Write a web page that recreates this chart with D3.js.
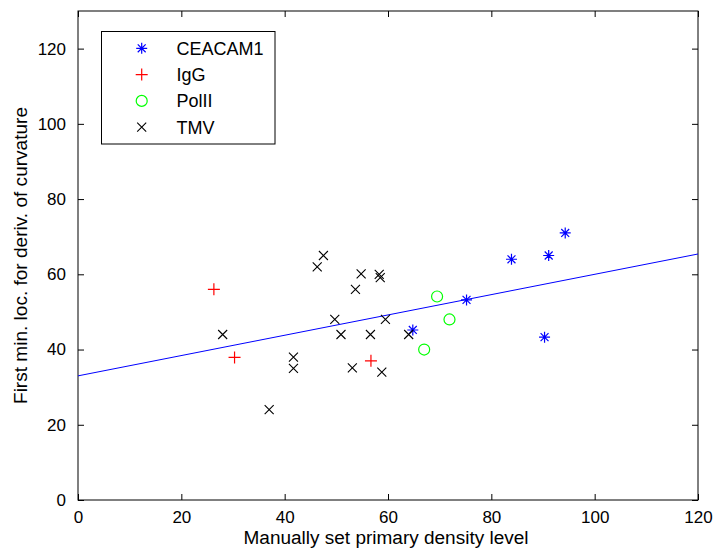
<!DOCTYPE html>
<html>
<head>
<meta charset="utf-8">
<script src="https://cdn.jsdelivr.net/npm/d3@7/dist/d3.min.js"></script>
<style>
  html, body { margin: 0; padding: 0; background: #fff; }
  svg { display: block; font-family: "Liberation Sans", Arial, Helvetica, sans-serif; }
</style>
</head>
<body>
<svg id="chart" width="717" height="554"></svg>
<script>
// ---- data ----
const ceacamX = [94.3, 91.1, 83.9, 75.2, 64.8, 90.3];
const ceacamY = [71.0, 65.0, 64.0, 53.2, 45.2, 43.3];
const iggX = [26.3, 30.3, 56.7];
const iggY = [56.0, 37.9, 37.0];
const polX = [69.5, 71.9, 67.0];
const polY = [54.1, 48.0, 40.0];
const tmvX = [28.0, 47.5, 46.3, 54.8, 58.3, 58.5, 53.7, 49.7, 59.5, 50.9, 56.6, 64.0, 41.7, 41.7, 53.1, 58.8, 37.0];
const tmvY = [44.0, 65.0, 62.0, 60.1, 60.0, 59.1, 56.0, 48.0, 48.0, 44.0, 44.0, 44.0, 38.0, 35.0, 35.1, 34.0, 24.0];
const fitX = [0, 120];
const fitY = [33.0, 65.4];
const xTicks = [0, 20, 40, 60, 80, 100, 120];
const yTicks = [0, 20, 40, 60, 80, 100, 120];
const seriesNames = ["CEACAM1", "IgG", "PolII", "TMV"];
const xDomain = [0, 120];
const yDomain = [0, 130];
const xLabel = "Manually set primary density level";
const yLabel = "First min. loc. for deriv. of curvature";

// ---- layout ----
const L = 78, R = 698, T = 11, B = 500;
const svg = d3.select("#chart");
const x = d3.scaleLinear().domain(xDomain).range([L, R]);
const y = d3.scaleLinear().domain(yDomain).range([B, T]);

const tickLen = 6;
const fontSize = 17;

// axes with inward ticks
const axB = d3.axisBottom(x).tickValues(xTicks).tickSize(-tickLen).tickPadding(tickLen + 5).tickFormat(d3.format("d"));
const axT = d3.axisTop(x).tickValues(xTicks).tickSize(-tickLen).tickFormat("");
const axLft = d3.axisLeft(y).tickValues(yTicks).tickSize(-tickLen).tickPadding(tickLen + 6).tickFormat(d3.format("d"));
const axRt = d3.axisRight(y).tickValues(yTicks).tickSize(-tickLen).tickFormat("");

function style(g) {
  g.select(".domain").remove();
  g.selectAll(".tick line").attr("stroke", "#000").attr("stroke-width", 1);
  g.selectAll(".tick text").attr("fill", "#000").style("font-size", fontSize + "px")
    .style("font-family", '"Liberation Sans", Arial, sans-serif');
}
svg.append("g").attr("transform", `translate(0,${B})`).call(axB).call(style);
svg.append("g").attr("transform", `translate(0,${T})`).call(axT).call(style);
svg.append("g").attr("transform", `translate(${L},0)`).call(axLft).call(style);
svg.append("g").attr("transform", `translate(${R},0)`).call(axRt).call(style);

// plot box
svg.append("rect").attr("x", L).attr("y", T).attr("width", R - L).attr("height", B - T)
  .attr("fill", "none").attr("stroke", "#000").attr("stroke-width", 1);

// axis labels
svg.append("text").attr("x", (L + R) / 2 - 2).attr("y", 544).attr("text-anchor", "middle")
  .style("font-size", "18px").attr("textLength", 285).attr("lengthAdjust", "spacingAndGlyphs")
  .text(xLabel);
svg.append("text").attr("transform", `translate(27,${(T + B) / 2}) rotate(-90)`).attr("text-anchor", "middle")
  .style("font-size", "18px").attr("textLength", 297).attr("lengthAdjust", "spacingAndGlyphs")
  .text(yLabel);

// regression line
const clipId = "plotclip";
svg.append("clipPath").attr("id", clipId).append("rect").attr("x", L).attr("y", T).attr("width", R - L).attr("height", B - T);
svg.append("path").attr("clip-path", `url(#${clipId})`)
  .datum(fitX.map((v, i) => [v, fitY[i]]))
  .attr("d", d3.line().x(d => x(d[0])).y(d => y(d[1])))
  .attr("fill", "none").attr("stroke", "#0000ff").attr("stroke-width", 1);

// marker drawers
function drawStar(g, cx, cy, s, color) {
  const d = s * 0.72;
  const p = `M${cx - s},${cy}L${cx + s},${cy}M${cx},${cy - s}L${cx},${cy + s}` +
            `M${cx - d},${cy - d}L${cx + d},${cy + d}M${cx - d},${cy + d}L${cx + d},${cy - d}`;
  g.append("path").attr("d", p).attr("stroke", color).attr("stroke-width", 1.2).attr("fill", "none");
}
function drawPlus(g, cx, cy, s, color) {
  g.append("path").attr("d", `M${cx - s},${cy}L${cx + s},${cy}M${cx},${cy - s}L${cx},${cy + s}`)
    .attr("stroke", color).attr("stroke-width", 1.2).attr("fill", "none");
}
function drawCircle(g, cx, cy, r, color) {
  g.append("circle").attr("cx", cx).attr("cy", cy).attr("r", r)
    .attr("stroke", color).attr("stroke-width", 1.2).attr("fill", "none");
}
function drawX(g, cx, cy, s, color) {
  g.append("path").attr("d", `M${cx - s},${cy - s}L${cx + s},${cy + s}M${cx - s},${cy + s}L${cx + s},${cy - s}`)
    .attr("stroke", color).attr("stroke-width", 1.1).attr("fill", "none");
}

const pts = svg.append("g");
ceacamX.forEach((v, i) => drawStar(pts, x(v), y(ceacamY[i]), 5.5, "#0000ff"));
iggX.forEach((v, i) => drawPlus(pts, x(v), y(iggY[i]), 6, "#ff0000"));
polX.forEach((v, i) => drawCircle(pts, x(v), y(polY[i]), 5.5, "#00ff00"));
tmvX.forEach((v, i) => drawX(pts, x(v), y(tmvY[i]), 4.5, "#000000"));

// legend
const lg = svg.append("g");
lg.append("rect").attr("x", 101.5).attr("y", 31.5).attr("width", 173.5).attr("height", 112.5)
  .attr("fill", "#fff").attr("stroke", "#000").attr("stroke-width", 1);
const rowY = [48.3, 74.6, 100.9, 127.2];
const drawers = [
  (cy) => drawStar(lg, 141.7, cy, 5.5, "#0000ff"),
  (cy) => drawPlus(lg, 141.7, cy, 6, "#ff0000"),
  (cy) => drawCircle(lg, 141.7, cy, 5.5, "#00ff00"),
  (cy) => drawX(lg, 141.7, cy, 4.5, "#000000")
];
seriesNames.forEach((name, i) => {
  drawers[i](rowY[i]);
  lg.append("text").attr("x", 176.5).attr("y", rowY[i]).attr("dy", "0.36em")
    .style("font-size", "18px").attr("fill", "#000").text(name);
});
</script>
</body>
</html>
